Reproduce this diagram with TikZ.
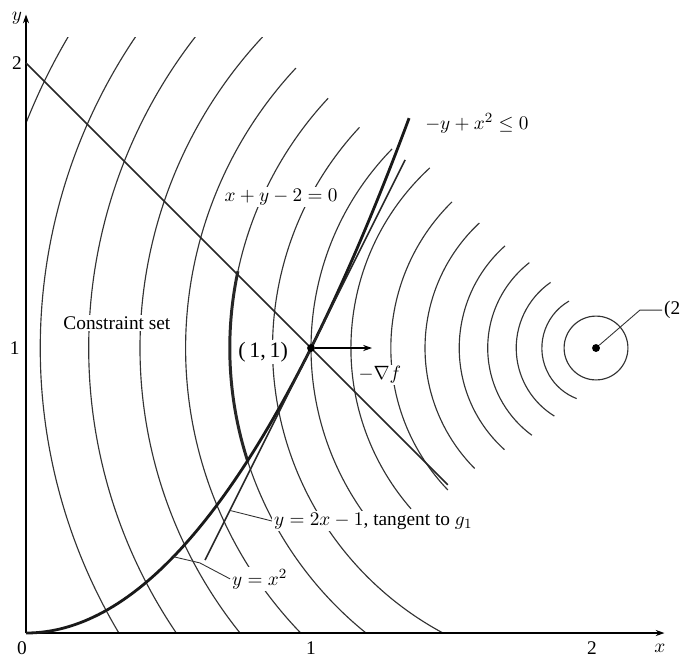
\documentclass[tikz,border=0pt]{standalone}
\usepackage{fontspec}
\setmainfont{Liberation Serif}
\usetikzlibrary{arrows.meta}
\begin{document}
\begin{tikzpicture}[x=5.7cm,y=5.7cm,
  contour/.style={line width=0.65pt, black!80},
  curveline/.style={line width=0.9pt, black!85},
  lbl/.style={fill=white, inner sep=1pt, font=\fontsize{11}{13}\selectfont},
  axlbl/.style={inner sep=0pt, font=\fontsize{11}{13}\selectfont},
  dotnode/.style={circle, fill=black, inner sep=0pt, minimum size=4.5pt},
  leader/.style={line width=0.5pt, black!80}]
\useasboundingbox (-0.0912,-0.0877) rectangle (2.2947,2.2211);

% contours of the objective, centred at (2,1)
\begin{scope}
  \clip (0,0) rectangle (2.3,2.088);
  \foreach \r/\a/\b in {2.15/140/170, 1.95/137/250, 1.78/137/250, 1.60/137/250,
      1.44/137/250, 1.285/137/250, 1.135/137/250, 1.0/135.7/219, 0.86/132.7/221,
      0.72/134.6/223.8, 0.60/133/224.8, 0.48/131.7/228, 0.38/128/233.7,
      0.28/124.7/238.5, 0.19/120/249}
    \draw[contour] (2,1) ++(\a:\r) arc[start angle=\a, end angle=\b, radius=\r];
\end{scope}
\draw[contour] (2,1) circle[radius=0.112];
% boundary part of the contour between the constraints
\draw[line width=1.7pt, black!85] (2,1) ++(167.9:1.285) arc[start angle=167.9, end angle=198.1, radius=1.285];

% axes
\coordinate (O) at (0,0);
\coordinate (Ytop) at (0,2.17);
\coordinate (Xend) at (2.24,0);
\draw[line width=0.7pt, -{Stealth[length=5pt,width=3.5pt]}] (O) -- (Ytop);
\draw[line width=0.7pt, -{Stealth[length=5pt,width=3.5pt]}] (O) -- (Xend);

% constraint curves
\coordinate (L1) at (0,2);
\coordinate (L2) at (1.48,0.52);
\draw[curveline] (L1) -- (L2);
\draw[line width=1.6pt, black!90] plot[domain=0:1.345, samples=80] (\x,{\x*\x});
\coordinate (T1) at (0.628,0.256);
\coordinate (T2) at (1.33,1.66);
\draw[curveline] (T1) -- (T2);

% points
\node[dotnode] (P) at (1,1) {};
\node[dotnode] (C) at (2,1) {};
\coordinate (G) at (1.214,1);
\draw[line width=0.6pt, -{Stealth[length=5pt,width=3.5pt]}] (P) -- (G);

% labels
\node[axlbl] (ly) at (-0.032,2.158) {$y$};
\node[axlbl] (ly2) at (-0.032,2.0) {2};
\node[axlbl] (ly1) at (-0.04,1.0) {1};
\node[axlbl] (lx0) at (-0.014,-0.053) {0};
\node[axlbl] (lx1) at (1.0,-0.053) {1};
\node[axlbl] (lx2) at (1.986,-0.053) {2};
\node[axlbl] (lx) at (2.224,-0.053) {$x$};

\node[lbl] (cs) at (0.319,1.088) {Constraint set};
\node[lbl, font=\fontsize{12.5}{14}\selectfont] (p11) at (0.832,0.986) {(\,1,\,1)};
\node[lbl] (gf) at (1.242,0.905) {$-\nabla f$};
\node[lbl] (g2) at (0.895,1.530) {$x+y-2=0$};
\node[lbl] (g1) at (1.582,1.789) {$-y+x^2\leq 0$};
\node[lbl, anchor=west] (yx2) at (0.716,0.19) {$y=x^2$};
\node[lbl, anchor=west] (tan) at (0.863,0.393) {$y=2x-1$, tangent to $g_1$};
\node[lbl, anchor=west] (c21) at (2.232,1.133) {(2, 1)};

% leaders
\draw[leader] (0.516,0.268) -- (0.61,0.246) -- (yx2.west);
\draw[leader] (0.716,0.43) -- (tan.west);
\draw[leader] (C) -- (2.154,1.133) -- (c21.west);
\end{tikzpicture}
\end{document}
